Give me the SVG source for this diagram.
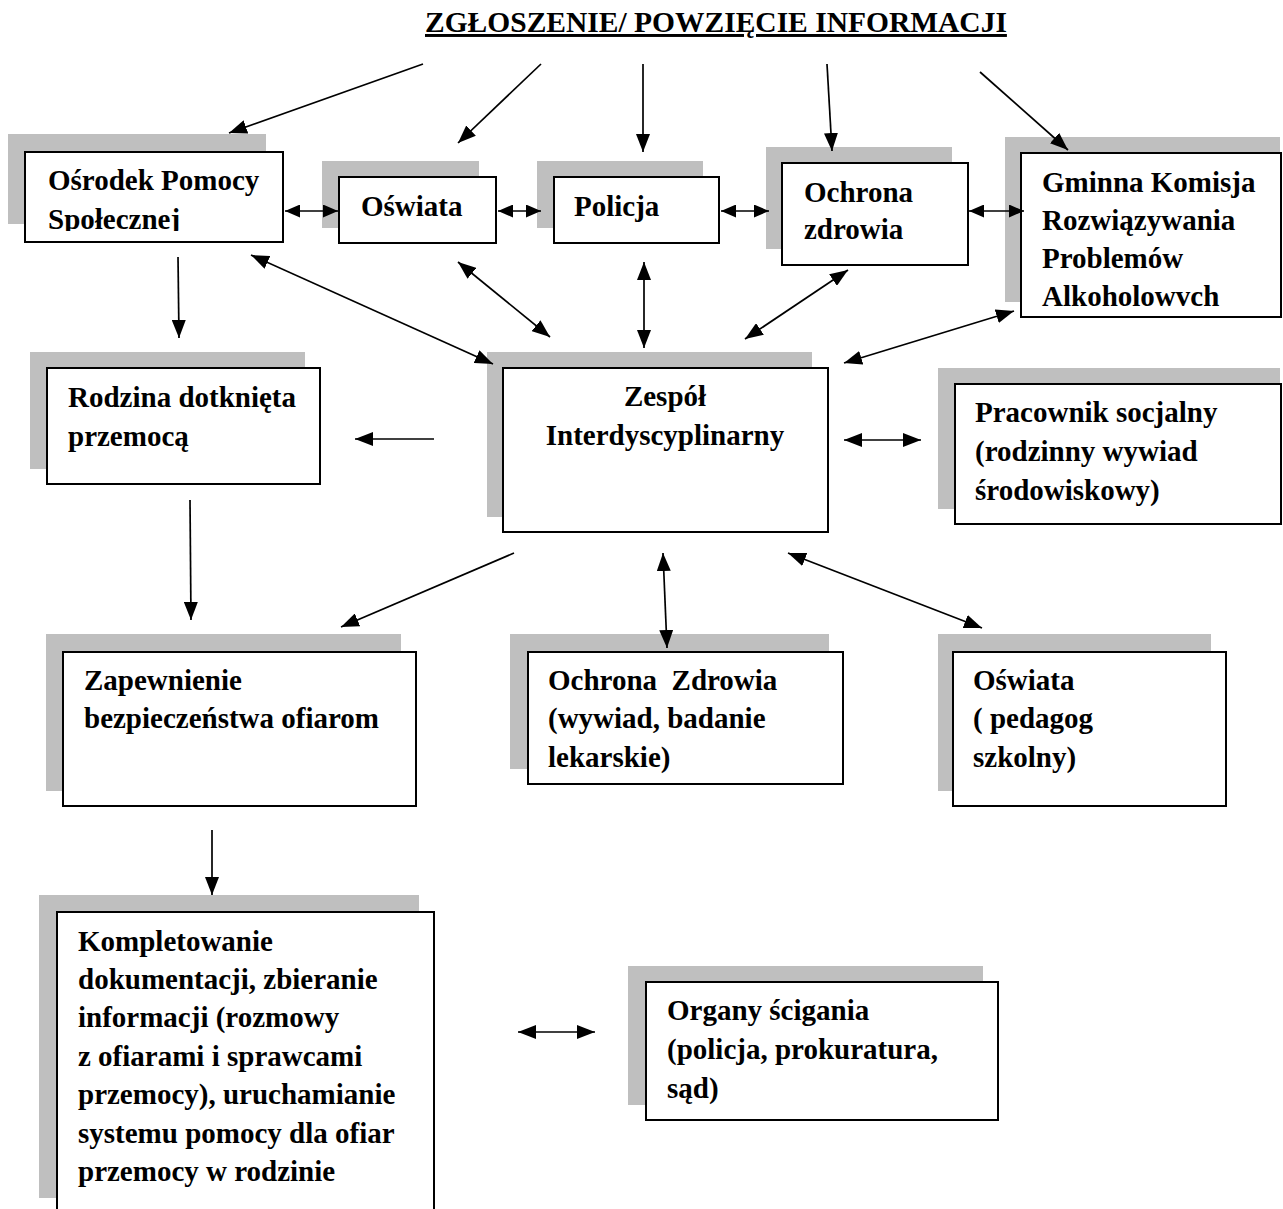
<svg xmlns="http://www.w3.org/2000/svg" width="1283" height="1209" viewBox="0 0 1283 1209">
<style>
  .sh { fill: #bfbfbf; }
  .bx { fill: #ffffff; stroke: #000000; stroke-width: 2; }
  .t { font-family: "Liberation Serif", "Times New Roman", serif; font-weight: bold; font-size: 29px; fill: #000000; white-space: pre; }
  .ttl { font-family: "Liberation Serif", "Times New Roman", serif; font-weight: bold; font-size: 29.5px; fill: #000000; text-decoration: underline; text-decoration-thickness: 2.5px; text-underline-offset: 4px; }
  .ln { stroke: #000000; stroke-width: 1.7; fill: none; }
  .a1 { marker-end: url(#ah); }
  .a2 { marker-start: url(#ah); marker-end: url(#ah); }
  .s2 { marker-start: url(#ahs); marker-end: url(#ahs); }
</style>
<defs>
  <marker id="ah" viewBox="0 0 18 14" refX="18" refY="7" markerWidth="18" markerHeight="14" markerUnits="userSpaceOnUse" orient="auto-start-reverse">
    <path d="M0,0 L18,7 L0,14 Z" fill="#000000"/>
  </marker>
  <marker id="ahs" viewBox="0 0 15 13" refX="15" refY="6.5" markerWidth="15" markerHeight="13" markerUnits="userSpaceOnUse" orient="auto-start-reverse">
    <path d="M0,0 L15,6.5 L0,13 Z" fill="#000000"/>
  </marker>
  <clipPath id="clipOps"><rect x="25" y="152" width="258" height="79"/></clipPath>
</defs>
<rect x="0" y="0" width="1283" height="1209" fill="#ffffff"/>

<g id="title">
  <text class="ttl" x="425" y="32">ZGŁOSZENIE/ POWZIĘCIE INFORMACJI</text>
</g>

<g id="node-ops">
  <rect class="sh" x="8" y="134" width="258" height="90"/>
  <rect class="bx" x="25" y="152" width="258" height="90"/>
  <g clip-path="url(#clipOps)">
    <text class="t" x="48" y="190">Ośrodek Pomocy</text>
    <text class="t" x="48" y="229">Społecznej</text>
  </g>
</g>

<g id="node-oswiata-top">
  <rect class="sh" x="322" y="161" width="157" height="67"/>
  <rect class="bx" x="339" y="177" width="157" height="66"/>
  <text class="t" x="361" y="216">Oświata</text>
</g>

<g id="node-policja">
  <rect class="sh" x="537" y="161" width="166" height="67"/>
  <rect class="bx" x="554" y="177" width="165" height="66"/>
  <text class="t" x="574" y="216">Policja</text>
</g>

<g id="node-ochrona-top">
  <rect class="sh" x="766" y="147" width="186" height="102"/>
  <rect class="bx" x="782" y="163" width="186" height="102"/>
  <text class="t" x="804" y="202">Ochrona</text>
  <text class="t" x="804" y="239">zdrowia</text>
</g>

<g id="node-gminna">
  <rect class="sh" x="1005" y="137" width="275" height="165"/>
  <rect class="bx" x="1021" y="153" width="260" height="164"/>
  <text class="t" x="1042" y="192">Gminna Komisja</text>
  <text class="t" x="1042" y="230">Rozwiązywania</text>
  <text class="t" x="1042" y="268">Problemów</text>
  <text class="t" x="1042" y="306">Alkoholowvch</text>
</g>

<g id="node-rodzina">
  <rect class="sh" x="30" y="352" width="275" height="117"/>
  <rect class="bx" x="47" y="368" width="273" height="116"/>
  <text class="t" x="68" y="407">Rodzina dotknięta</text>
  <text class="t" x="68" y="446">przemocą</text>
</g>

<g id="node-zespol">
  <rect class="sh" x="487" y="352" width="325" height="165"/>
  <rect class="bx" x="503" y="368" width="325" height="164"/>
  <text class="t" x="665" y="406" text-anchor="middle">Zespół</text>
  <text class="t" x="665" y="445" text-anchor="middle">Interdyscyplinarny</text>
</g>

<g id="node-pracownik">
  <rect class="sh" x="938" y="368" width="342" height="141"/>
  <rect class="bx" x="955" y="384" width="326" height="140"/>
  <text class="t" x="975" y="422">Pracownik socjalny</text>
  <text class="t" x="975" y="461">(rodzinny wywiad</text>
  <text class="t" x="975" y="500">środowiskowy)</text>
</g>

<g id="node-zapewnienie">
  <rect class="sh" x="46" y="634" width="355" height="157"/>
  <rect class="bx" x="63" y="652" width="353" height="154"/>
  <text class="t" x="84" y="690">Zapewnienie</text>
  <text class="t" x="84" y="728">bezpieczeństwa ofiarom</text>
</g>

<g id="node-ochrona-bottom">
  <rect class="sh" x="510" y="634" width="319" height="135"/>
  <rect class="bx" x="528" y="652" width="315" height="132"/>
  <text class="t" x="548" y="690">Ochrona  Zdrowia</text>
  <text class="t" x="548" y="728">(wywiad, badanie</text>
  <text class="t" x="548" y="767">lekarskie)</text>
</g>

<g id="node-oswiata-bottom">
  <rect class="sh" x="938" y="634" width="273" height="157"/>
  <rect class="bx" x="953" y="652" width="273" height="154"/>
  <text class="t" x="973" y="690">Oświata</text>
  <text class="t" x="973" y="728">( pedagog</text>
  <text class="t" x="973" y="767">szkolny)</text>
</g>

<g id="node-kompletowanie">
  <rect class="sh" x="39" y="895" width="380" height="303"/>
  <rect class="bx" x="57" y="912" width="377" height="310"/>
  <text class="t" x="78" y="951">Kompletowanie</text>
  <text class="t" x="78" y="989">dokumentacji, zbieranie</text>
  <text class="t" x="78" y="1027">informacji (rozmowy</text>
  <text class="t" x="78" y="1066">z ofiarami i sprawcami</text>
  <text class="t" x="78" y="1104">przemocy), uruchamianie</text>
  <text class="t" x="78" y="1143">systemu pomocy dla ofiar</text>
  <text class="t" x="78" y="1181">przemocy w rodzinie</text>
</g>

<g id="node-organy">
  <rect class="sh" x="628" y="966" width="355" height="139"/>
  <rect class="bx" x="646" y="982" width="352" height="138"/>
  <text class="t" x="667" y="1020">Organy ścigania</text>
  <text class="t" x="667" y="1059">(policja, prokuratura,</text>
  <text class="t" x="667" y="1098">sąd)</text>
</g>

<g id="connectors">
  <line class="ln a1" x1="423" y1="64" x2="229" y2="133"/>
  <line class="ln a1" x1="541" y1="64" x2="458" y2="143"/>
  <line class="ln a1" x1="643" y1="64" x2="643" y2="152"/>
  <line class="ln a1" x1="827" y1="64" x2="832" y2="151"/>
  <line class="ln a1" x1="980" y1="72" x2="1068" y2="150"/>

  <line class="ln s2" x1="285" y1="211" x2="338" y2="211"/>
  <line class="ln s2" x1="498" y1="211" x2="541" y2="211"/>
  <line class="ln s2" x1="721" y1="211" x2="769" y2="211"/>
  <line class="ln s2" x1="969" y1="211" x2="1024" y2="211"/>

  <line class="ln a1" x1="178" y1="257" x2="179" y2="338"/>

  <line class="ln a2" x1="251" y1="255" x2="493" y2="364"/>
  <line class="ln a2" x1="458" y1="262" x2="550" y2="337"/>
  <line class="ln a2" x1="644" y1="262" x2="644" y2="348"/>
  <line class="ln a2" x1="848" y1="270" x2="745" y2="339"/>
  <line class="ln a2" x1="1014" y1="311" x2="844" y2="363"/>

  <line class="ln a1" x1="434" y1="439" x2="355" y2="439"/>
  <line class="ln a2" x1="844" y1="440" x2="921" y2="440"/>

  <line class="ln a1" x1="190" y1="500" x2="191" y2="620"/>
  <line class="ln a1" x1="514" y1="553" x2="341" y2="627"/>
  <line class="ln a2" x1="663" y1="553" x2="667" y2="648"/>
  <line class="ln a2" x1="788" y1="553" x2="982" y2="628"/>

  <line class="ln a1" x1="212" y1="830" x2="212" y2="895"/>
  <line class="ln a2" x1="518" y1="1032" x2="595" y2="1032"/>
</g>
</svg>
